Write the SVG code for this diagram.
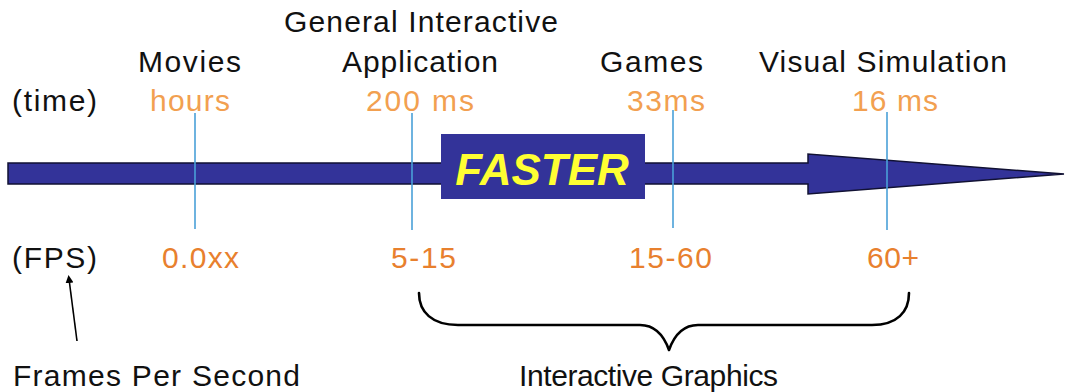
<svg xmlns="http://www.w3.org/2000/svg" width="1065" height="392" viewBox="0 0 1065 392">
  <defs>
    <style>
      .lbl { font-family: "Liberation Sans", Arial, sans-serif; font-size: 30px; fill: #111111; }
      .time { font-family: "Liberation Sans", Arial, sans-serif; font-size: 30px; fill: #f2a050; }
      .fps { font-family: "Liberation Sans", Arial, sans-serif; font-size: 30px; fill: #e8802e; }
      .tick { stroke: #4aa0d8; stroke-width: 1.6; fill: none; }
      .shaft { fill: #333399; stroke: #111133; stroke-width: 1.5; }
      .brace { fill: none; stroke: #000000; stroke-width: 2.6; stroke-linejoin: round; stroke-linecap: round; }
    </style>
    <marker id="tip" markerWidth="8" markerHeight="8" refX="4" refY="4" orient="auto" markerUnits="userSpaceOnUse">
      <path d="M0,0 L8,4 L0,8 Z" fill="#000"/>
    </marker>
  </defs>
  <rect width="1065" height="392" fill="#ffffff"/>

  <!-- row labels -->
  <g id="row-labels">
    <text class="lbl" x="12" y="111" textLength="85" lengthAdjust="spacing">(time)</text>
    <text class="lbl" x="12" y="268" textLength="85" lengthAdjust="spacing">(FPS)</text>
  </g>

  <!-- time axis arrow -->
  <g id="axis">
    <path class="shaft" d="M8,163 L808,163 L808,154 L1064,174 L808,194 L808,184 L8,184 Z"/>
  </g>

  <!-- category columns -->
  <g id="movies">
    <line class="tick" x1="195" y1="113" x2="195" y2="229"/>
    <text class="lbl" x="138" y="72" textLength="103" lengthAdjust="spacing">Movies</text>
    <text class="time" x="150" y="111" textLength="80" lengthAdjust="spacing">hours</text>
    <text class="fps" x="162" y="268" textLength="77" lengthAdjust="spacing">0.0xx</text>
  </g>

  <g id="general-interactive">
    <line class="tick" x1="412" y1="113" x2="412" y2="230"/>
    <text class="lbl" x="284" y="32" textLength="274" lengthAdjust="spacing">General Interactive</text>
    <text class="lbl" x="342" y="72" textLength="156" lengthAdjust="spacing">Application</text>
    <text class="time" x="366" y="111" textLength="108" lengthAdjust="spacing">200 ms</text>
    <text class="fps" x="391" y="268" textLength="65" lengthAdjust="spacing">5-15</text>
  </g>

  <g id="games">
    <line class="tick" x1="673" y1="110" x2="673" y2="228"/>
    <text class="lbl" x="600" y="72" textLength="103" lengthAdjust="spacing">Games</text>
    <text class="time" x="627" y="111" textLength="78" lengthAdjust="spacing">33ms</text>
    <text class="fps" x="629" y="268" textLength="83" lengthAdjust="spacing">15-60</text>
  </g>

  <g id="visual-simulation">
    <line class="tick" x1="887" y1="112" x2="887" y2="230"/>
    <text class="lbl" x="759" y="72" textLength="248" lengthAdjust="spacing">Visual Simulation</text>
    <text class="time" x="852" y="111" textLength="86" lengthAdjust="spacing">16 ms</text>
    <text class="fps" x="867" y="268" textLength="52" lengthAdjust="spacing">60+</text>
  </g>

  <!-- banner over the axis -->
  <g id="faster">
    <rect x="441" y="134" width="204" height="65" fill="#333399"/>
    <text x="542" y="185" text-anchor="middle" font-family="Liberation Sans, Arial, sans-serif" font-size="44" font-weight="bold" font-style="italic" fill="#ffff33">FASTER</text>
  </g>

  <!-- connectors: pointer and brace -->
  <g id="connectors">
    <line x1="77" y1="341" x2="69" y2="279" stroke="#000" stroke-width="1.6" marker-end="url(#tip)"/>
    <path class="brace" d="M419,293 C419,312 432,325 458,325 L640,325 C655,325 664,336 669,350 C674,336 683,325 698,325 L872,325 C897,325 909,312 909,293"/>
  </g>

  <g id="fps-note">
    <text class="lbl" x="13" y="386" textLength="287" lengthAdjust="spacing">Frames Per Second</text>
  </g>

  <g id="interactive-graphics">
    <text class="lbl" x="519" y="386" textLength="259" lengthAdjust="spacing">Interactive Graphics</text>
  </g>
</svg>
